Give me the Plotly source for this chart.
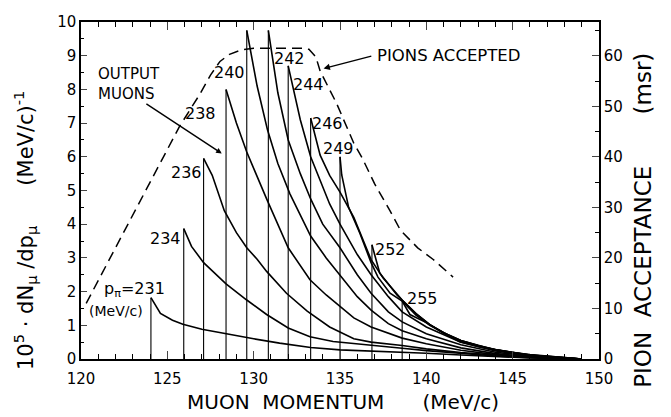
import plotly.graph_objects as go

FONT = "DejaVu Sans"

# ---- data: muon spectra for each pion momentum (MeV/c) ----
p_pion = [231, 234, 236, 238, 240, 242, 244, 246, 249, 252, 255]

mu_x_231 = [124.05, 124.6, 125.3, 125.9, 127.0, 128.4, 130.0, 131.5, 133.3, 135.0, 136.8, 138.6, 140.0, 142.0, 144.0, 146.0, 148.0, 149.0]
mu_y_231 = [1.82, 1.35, 1.15, 1.03, 0.88, 0.74, 0.60, 0.47, 0.34, 0.27, 0.24, 0.21, 0.17, 0.12, 0.07, 0.03, 0.01, 0.0]

mu_x_234 = [125.95, 126.4, 127.1, 128.4, 129.6, 130.75, 132.0, 133.26, 134.6, 136.8, 138.6, 140.0, 142.0, 144.0, 146.0, 148.0, 149.0]
mu_y_234 = [3.87, 3.34, 2.86, 2.23, 1.75, 1.32, 0.92, 0.66, 0.52, 0.40, 0.32, 0.25, 0.16, 0.09, 0.04, 0.01, 0.0]

mu_x_236 = [127.1, 127.6, 128.3, 129.0, 129.6, 130.2, 130.75, 131.9, 133.1, 134.4, 135.8, 136.8, 138.6, 140.0, 142.0, 144.0, 146.0, 148.0, 149.0]
mu_y_236 = [5.95, 5.45, 4.40, 3.75, 3.30, 2.96, 2.60, 1.95, 1.42, 0.95, 0.60, 0.50, 0.40, 0.30, 0.19, 0.11, 0.05, 0.015, 0.0]

mu_x_238 = [128.4, 129.0, 129.6, 130.75, 132.0, 133.26, 134.2, 135.0, 135.8, 136.8, 138.6, 140.0, 142.0, 144.0, 146.0, 148.0, 149.0]
mu_y_238 = [8.0, 7.0, 6.14, 4.75, 3.30, 2.35, 1.90, 1.55, 1.22, 0.95, 0.62, 0.45, 0.26, 0.13, 0.06, 0.02, 0.0]

mu_x_240 = [129.6, 130.2, 130.8, 131.4, 132.1, 132.7, 133.3, 134.2, 135.0, 136.0, 136.8, 137.8, 138.6, 140.0, 142.0, 144.0, 146.0, 148.0, 149.0]
mu_y_240 = [9.75, 8.1, 6.8, 5.8, 4.9, 4.25, 3.65, 3.0, 2.5, 1.85, 1.45, 1.05, 0.84, 0.60, 0.33, 0.16, 0.07, 0.02, 0.0]

mu_x_242 = [130.85, 131.4, 132.0, 132.7, 133.3, 134.0, 135.0, 136.0, 136.8, 137.8, 138.6, 140.0, 142.0, 144.0, 146.0, 148.0, 149.0]
mu_y_242 = [9.75, 7.9, 6.5, 5.5, 4.75, 4.0, 3.3, 2.5, 1.95, 1.4, 1.1, 0.75, 0.42, 0.20, 0.09, 0.025, 0.0]

mu_x_244 = [132.0, 132.7, 133.3, 133.85, 134.4, 135.0, 136.0, 136.8, 137.8, 138.6, 140.0, 142.0, 144.0, 146.0, 148.0, 149.0]
mu_y_244 = [8.7, 7.1, 6.0, 5.3, 4.6, 4.0, 3.1, 2.5, 1.85, 1.4, 0.95, 0.50, 0.24, 0.10, 0.03, 0.0]

mu_x_246 = [133.3, 133.85, 134.4, 135.0, 135.8, 136.8, 137.5, 138.6, 139.4, 140.2, 141.0, 142.0, 144.0, 146.0, 148.0, 149.0]
mu_y_246 = [7.15, 6.05, 5.45, 4.95, 4.2, 2.95, 2.4, 1.75, 1.35, 1.02, 0.78, 0.55, 0.27, 0.11, 0.035, 0.0]

mu_x_249 = [135.0, 135.1, 135.5, 136.15, 136.8, 137.2, 137.9, 138.6, 139.4, 140.2, 141.0, 142.0, 143.0, 144.0, 146.0, 148.0, 149.0]
mu_y_249 = [6.0, 5.46, 4.5, 3.73, 2.86, 2.43, 1.95, 1.72, 1.30, 1.00, 0.78, 0.55, 0.40, 0.28, 0.12, 0.04, 0.0]

mu_x_252 = [136.85, 137.1, 137.3, 138.3, 138.6, 139.4, 140.2, 141.0, 142.0, 143.0, 144.0, 146.0, 148.0, 149.0]
mu_y_252 = [3.39, 2.95, 2.55, 1.90, 1.75, 1.35, 1.02, 0.76, 0.54, 0.39, 0.27, 0.12, 0.04, 0.0]

mu_x_255 = [138.6, 139.05, 140.0, 141.0, 141.9, 143.1, 144.8, 146.0, 148.0, 149.0]
mu_y_255 = [1.72, 1.32, 1.08, 0.79, 0.52, 0.36, 0.21, 0.13, 0.04, 0.0]

mu_x = [mu_x_231, mu_x_234, mu_x_236, mu_x_238, mu_x_240, mu_x_242,
        mu_x_244, mu_x_246, mu_x_249, mu_x_252, mu_x_255]
mu_y = [mu_y_231, mu_y_234, mu_y_236, mu_y_238, mu_y_240, mu_y_242,
        mu_y_244, mu_y_246, mu_y_249, mu_y_252, mu_y_255]

# ---- data: pion acceptance (msr), right axis ----
acc_x = [120.3, 122.0, 124.0, 125.7, 126.9, 127.5, 128.05, 128.6, 129.3, 130.0,
         132.8, 133.2, 133.6, 133.85, 134.8, 135.8, 136.3, 137.0, 137.9, 138.5, 139.5, 140.4, 141.55]
acc_msr = [11.0, 22.0, 35.0, 46.0, 52.5, 56.2, 58.9, 60.3, 61.2, 61.5,
           61.5, 61.3, 59.8, 57.0, 50.6, 42.7, 39.7, 34.7, 29.3, 25.5, 22.0, 19.7, 16.2]

# ---- label text / positions ----
curve_labels = ["234", "236", "238", "240", "242", "244", "246", "249", "252", "255"]
label_x = [124.9, 126.1, 126.9, 128.6, 132.1, 133.15, 134.3, 134.94, 137.95, 139.75]
label_y = [3.58, 5.52, 7.28, 8.5, 8.93, 8.15, 7.0, 6.24, 3.24, 1.8]

x_ticks = [120, 125, 130, 135, 140, 145, 150]
y_ticks = list(range(0, 11))
y2_ticks = [0, 10, 20, 30, 40, 50, 60]

fig = go.Figure()

for xs, ys in zip(mu_x, mu_y):
    # vertical edge at the kinematic limit
    fig.add_trace(go.Scatter(x=[xs[0], xs[0]], y=[0, ys[0]], mode="lines",
                             line=dict(color="black", width=1.1),
                             showlegend=False, hoverinfo="skip"))
    fig.add_trace(go.Scatter(x=xs, y=ys, mode="lines",
                             line=dict(color="black", width=1.6),
                             showlegend=False))

fig.add_trace(go.Scatter(x=acc_x, y=acc_msr, mode="lines", yaxis="y2",
                         line=dict(color="black", width=1.5, dash="10px,6px"),
                         showlegend=False))

ann = []
for t, lx, ly in zip(curve_labels, label_x, label_y):
    ann.append(dict(x=lx, y=ly, xref="x", yref="y", text=t, showarrow=False,
                    xanchor="center", yanchor="middle",
                    font=dict(family=FONT, size=16, color="black")))

ann.append(dict(x=123.1, y=2.05, xref="x", yref="y",
                text="p<sub>π</sub>=231", showarrow=False,
                xanchor="center", yanchor="middle",
                font=dict(family=FONT, size=16, color="black")))
ann.append(dict(x=122.0, y=1.42, xref="x", yref="y", text="(MeV/c)", showarrow=False,
                xanchor="center", yanchor="middle",
                font=dict(family=FONT, size=14, color="black")))

ann.append(dict(x=120.85, y=8.15, xref="x", yref="y", text="OUTPUT<br>MUONS",
                showarrow=False, xanchor="left", yanchor="middle", align="left",
                font=dict(family=FONT, size=15, color="black")))
ann.append(dict(x=128.15, y=6.1, ax=123.7, ay=7.6, xref="x", yref="y",
                axref="x", ayref="y", text="", showarrow=True, arrowhead=2,
                arrowsize=0.8, arrowwidth=1.4, arrowcolor="black"))

ann.append(dict(x=137.05, y=9.0, xref="x", yref="y", text="PIONS ACCEPTED",
                showarrow=False, xanchor="left", yanchor="middle",
                font=dict(family=FONT, size=16.5, color="black")))
ann.append(dict(x=134.05, y=8.62, ax=136.9, ay=9.0, xref="x", yref="y",
                axref="x", ayref="y", text="", showarrow=True, arrowhead=2,
                arrowsize=0.9, arrowwidth=1.4, arrowcolor="black"))

# axis titles
ann.append(dict(x=-0.108, y=0.38, xref="paper", yref="paper", textangle=-90,
                xanchor="center", yanchor="middle",
                text="10<sup>5</sup> · dN<sub>μ</sub> /dp<sub>μ</sub>      (MeV/c)<sup>-1</sup>",
                showarrow=False, font=dict(family=FONT, size=21, color="black")))
ann.append(dict(x=1.085, y=0.41, xref="paper", yref="paper", textangle=-90,
                xanchor="center", yanchor="middle",
                text="PION  ACCEPTANCE       (msr)", showarrow=False,
                font=dict(family=FONT, size=23, color="black")))
ann.append(dict(x=0.505, y=-0.128, xref="paper", yref="paper",
                xanchor="center", yanchor="middle",
                text="MUON  MOMENTUM      (MeV/c)", showarrow=False,
                font=dict(family=FONT, size=20, color="black")))

# the page body adds an 8px offset; margins below compensate for it
fig.update_layout(
    width=663, height=409,
    margin=dict(l=73, r=72, t=5, b=58),
    plot_bgcolor="white", paper_bgcolor="white",
    font=dict(family=FONT, size=14, color="black"),
    annotations=ann,
    xaxis=dict(range=[120, 150], tickvals=x_ticks, ticks="inside", ticklen=8,
               tickwidth=1.3, showline=True, linecolor="black", linewidth=1.5,
               mirror="ticks", showgrid=False, zeroline=False,
               ticklabeloverflow="allow", ticklabelstandoff=5,
               minor=dict(dtick=1, ticks="inside", ticklen=5, tickwidth=1.1,
                          tickcolor="black", showgrid=False),
               tickfont=dict(family=FONT, size=15)),
    yaxis=dict(range=[0, 10], tickvals=y_ticks, ticks="inside", ticklen=6,
               tickwidth=1.3, showline=True, linecolor="black", linewidth=1.5,
               showgrid=False, zeroline=False, ticklabeloverflow="allow",
               minor=dict(dtick=0.5, ticks="inside", ticklen=3, tickcolor="black",
                          showgrid=False),
               tickfont=dict(family=FONT, size=15)),
    yaxis2=dict(range=[0, 66.7], tickvals=y2_ticks, overlaying="y", side="right",
                ticks="inside", ticklen=7, tickwidth=1.3, showline=True,
                linecolor="black", linewidth=1.5, showgrid=False, zeroline=False,
                ticklabeloverflow="allow",
                minor=dict(dtick=5, ticks="inside", ticklen=4, tickcolor="black",
                           showgrid=False),
                tickfont=dict(family=FONT, size=15)),
)

fig.write_html("out.html")
